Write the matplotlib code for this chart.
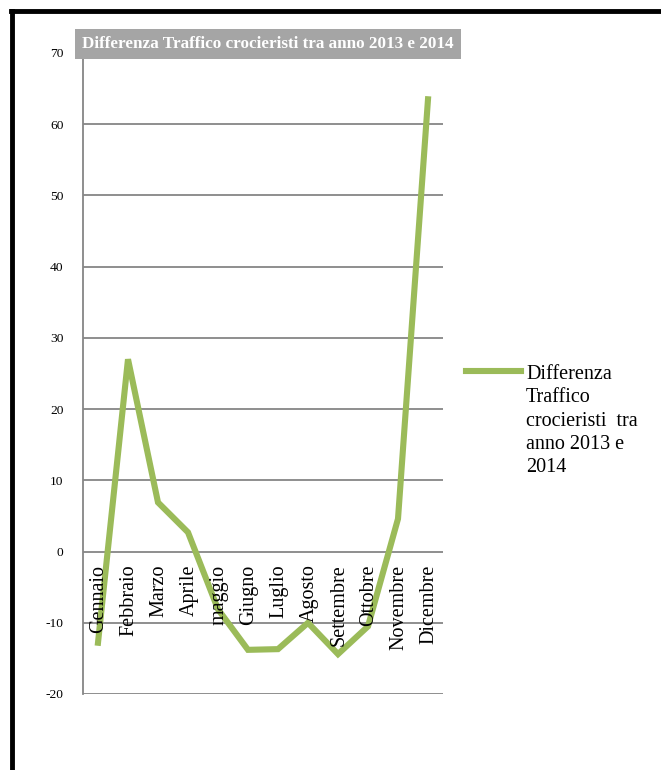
import matplotlib
matplotlib.use("Agg")
import numpy as np
import matplotlib.pyplot as plt
from matplotlib.lines import Line2D
from matplotlib.legend_handler import HandlerLine2D

months = ["Gennaio", "Febbraio", "Marzo", "Aprile", "maggio", "Giugno",
          "Luglio", "Agosto", "Settembre", "Ottobre", "Novembre", "Dicembre"]
values = [-12.8, 27.0, 6.9, 2.7, -8.1, -13.8, -13.7, -10.0, -14.4, -10.5, 4.6, 63.5]
yticks = [-20, -10, 0, 10, 20, 30, 40, 50, 60, 70]
title = "Differenza Traffico crocieristi tra anno 2013 e 2014"
legend_label = "Differenza\nTraffico\ncrocieristi  tra\nanno 2013 e\n2014"

plt.rcParams['font.family'] = ['Liberation Serif', 'DejaVu Serif']

W, H = 661, 770
fig = plt.figure(figsize=(W / 100, H / 100), dpi=100)
ax = fig.add_axes([83 / W, 1 - 694 / H, (443 - 83) / W, (694 - 53) / H])

green = "#9BBB59"
grid = "#868686"
x = list(range(len(months)))
line, = ax.plot(x, values, color=green, lw=4.4, solid_joinstyle='miter', zorder=3)

ax.set_xlim(-0.5, 11.5)
ax.set_ylim(-20, 70)
ax.set_yticks(yticks)
ax.set_yticklabels([str(v) for v in yticks], fontsize=9.7)
ax.tick_params(axis='y', length=0, pad=14)
ax.set_xticks([])
for v in yticks:
    ax.axhline(v, color=grid, lw=1.3, zorder=1)
for s in ['top', 'right', 'bottom']:
    ax.spines[s].set_visible(False)
ax.spines['left'].set_color(grid)
ax.spines['left'].set_linewidth(1.3)

for i, m in enumerate(months):
    ax.annotate(m, xy=(i, 0), xytext=(1, -13), textcoords='offset pixels',
                rotation=90, ha='center', va='top', fontsize=14.5, zorder=4)

fig.text(268 / W, 1 - 44 / H, title, ha='center', va='center', color='white',
         fontweight='bold', fontsize=12.3,
         bbox=dict(boxstyle='square,pad=0.4', fc='#A5A5A5', ec='none'))


class TopHandler(HandlerLine2D):
    def __init__(self, shift, **kw):
        super().__init__(**kw)
        self.shift = shift

    def create_artists(self, legend, orig_handle, xdescent, ydescent, width,
                       height, fontsize, trans):
        arts = super().create_artists(legend, orig_handle, xdescent, ydescent,
                                      width, height, fontsize, trans)
        for a in arts:
            a.set_ydata(np.asarray(a.get_ydata()) + self.shift)
        return arts


leg = fig.legend([line], [legend_label], loc='upper left',
                 bbox_to_anchor=(448 / W, 1 - 347 / H), frameon=False,
                 fontsize=14.5, handlelength=2.73, handletextpad=0.25,
                 handler_map={line: TopHandler(36)})
for t in leg.get_texts():
    t.set_linespacing(1.3)

# outer frame
fig.add_artist(Line2D([12 / W, 12 / W], [0, 1 - 11 / H], color='black', lw=3.5,
                      transform=fig.transFigure))
fig.add_artist(Line2D([10.5 / W, 1], [1 - 11 / H, 1 - 11 / H], color='black', lw=3.5,
                      transform=fig.transFigure))

fig.savefig("out.png", dpi=100)
